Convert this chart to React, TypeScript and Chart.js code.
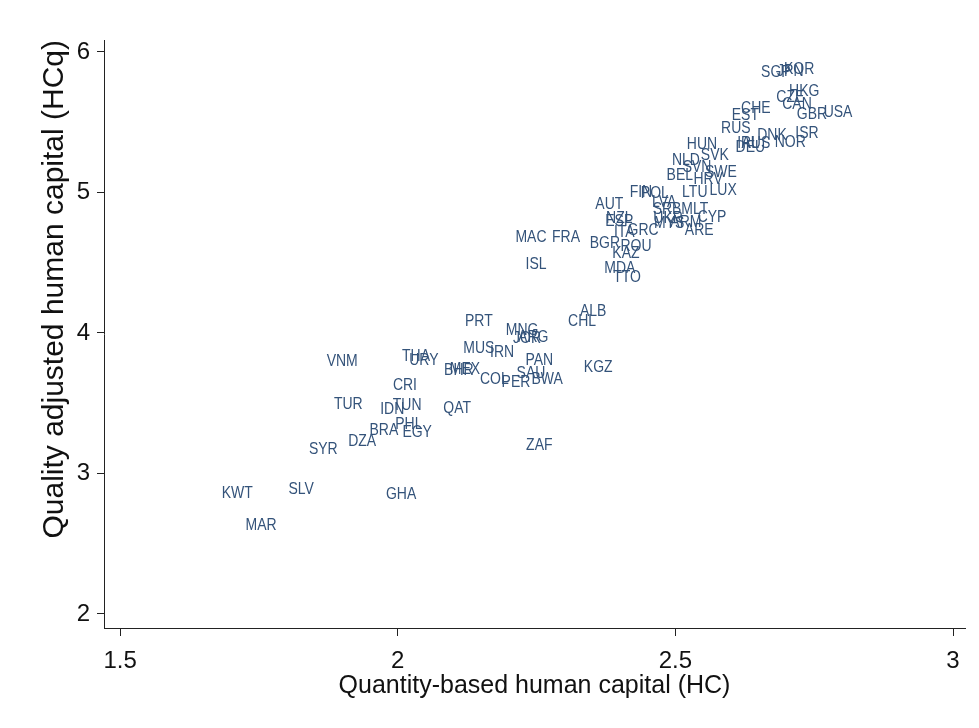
import React, { useEffect, useRef } from 'react';
import { Chart, registerables } from 'chart.js';

Chart.register(...registerables);

const countries = [
  'SGP', 'JPN', 'KOR', 'HKG', 'CZE', 'CAN', 'CHE', 'EST', 'GBR', 'USA',
  'RUS', 'DNK', 'ISR', 'NOR', 'AUS', 'IRL', 'DEU', 'HUN', 'SVK', 'NLD',
  'SVN', 'SWE', 'BEL', 'HRV', 'LTU', 'LUX', 'FIN', 'POL', 'LVA', 'AUT',
  'SRB', 'MLT', 'CYP', 'NZL', 'ESP', 'UKR', 'ARM', 'MYS', 'ARE', 'ITA',
  'GRC', 'BGR', 'ROU', 'KAZ', 'MDA', 'TTO', 'MAC', 'FRA', 'ISL', 'ALB',
  'CHL', 'PRT', 'MNG', 'JOR', 'ARG', 'MUS', 'IRN', 'PAN', 'SAU', 'COL',
  'PER', 'BWA', 'BHR', 'MEX', 'KGZ', 'ZAF', 'THA', 'URY', 'VNM', 'CRI',
  'TUN', 'IDN', 'QAT', 'TUR', 'PHL', 'BRA', 'EGY', 'DZA', 'SYR', 'KWT',
  'SLV', 'GHA', 'MAR',
];

const hc = [
  2.681, 2.707, 2.723, 2.732, 2.707, 2.719, 2.645, 2.626, 2.746, 2.793,
  2.609, 2.674, 2.737, 2.707, 2.645, 2.631, 2.635, 2.548, 2.571, 2.519,
  2.539, 2.582, 2.508, 2.559, 2.535, 2.586, 2.438, 2.463, 2.480, 2.381,
  2.485, 2.535, 2.566, 2.399, 2.399, 2.487, 2.519, 2.489, 2.543, 2.408,
  2.442, 2.373, 2.429, 2.411, 2.400, 2.413, 2.240, 2.303, 2.249, 2.352,
  2.332, 2.146, 2.224, 2.233, 2.244, 2.146, 2.188, 2.255, 2.240, 2.174,
  2.213, 2.269, 2.110, 2.121, 2.361, 2.255, 2.033, 2.047, 1.900, 2.013,
  2.017, 1.990, 2.107, 1.911, 2.020, 1.975, 2.035, 1.936, 1.866, 1.711,
  1.826, 2.006, 1.754,
];

const hcq = [
  5.858, 5.865, 5.879, 5.722, 5.680, 5.630, 5.601, 5.552, 5.559, 5.573,
  5.459, 5.409, 5.423, 5.359, 5.352, 5.352, 5.324, 5.345, 5.267, 5.231,
  5.181, 5.146, 5.125, 5.096, 5.004, 5.018, 5.004, 4.996, 4.932, 4.918,
  4.883, 4.883, 4.826, 4.819, 4.797, 4.819, 4.790, 4.783, 4.733, 4.719,
  4.733, 4.641, 4.619, 4.569, 4.463, 4.399, 4.683, 4.683, 4.491, 4.157,
  4.085, 4.085, 4.021, 3.964, 3.972, 3.893, 3.865, 3.808, 3.715, 3.673,
  3.651, 3.673, 3.737, 3.744, 3.758, 3.203, 3.836, 3.808, 3.801, 3.630,
  3.488, 3.459, 3.466, 3.495, 3.352, 3.310, 3.295, 3.231, 3.174, 2.861,
  2.890, 2.854, 2.633,
];

const xTicks = [1.5, 2, 2.5, 3];
const yTicks = [2, 3, 4, 5, 6];

const xTitle = 'Quantity-based human capital (HC)';
const yTitle = 'Quality adjusted human capital (HCq)';

const LABEL_COLOR = '#34537a';
const FONT = '"Liberation Sans", Arial, Helvetica, sans-serif';

const labelPlugin = {
  id: 'countryLabels',
  afterDatasetsDraw(chart: any) {
    const ctx = chart.ctx;
    const meta = chart.getDatasetMeta(0);
    ctx.save();
    ctx.font = `14px ${FONT}`;
    ctx.fillStyle = LABEL_COLOR;
    ctx.textAlign = 'center';
    ctx.textBaseline = 'middle';
    meta.data.forEach((pt: any, i: number) => {
      ctx.save();
      ctx.translate(pt.x, pt.y);
      ctx.scale(1, 1.2);
      ctx.fillText(countries[i], 0, 0);
      ctx.restore();
    });
    ctx.restore();
  },
};

export default function App() {
  const canvasRef = useRef<HTMLCanvasElement | null>(null);

  useEffect(() => {
    const canvas = canvasRef.current;
    if (!canvas) return;
    const points = hc.map((x, i) => ({ x, y: hcq[i] }));
    const chart = new Chart(canvas, {
      type: 'scatter',
      data: {
        datasets: [
          {
            label: 'HCq',
            data: points,
            pointRadius: 0,
            pointHoverRadius: 0,
            showLine: false,
          },
        ],
      },
      options: {
        animation: false,
        responsive: false,
        devicePixelRatio: 1,
        layout: { padding: { top: 40, right: 14, bottom: 0, left: 0 } },
        plugins: {
          legend: { display: false },
          tooltip: { enabled: false },
        },
        scales: {
          x: {
            type: 'linear',
            min: 1.471,
            max: 3.0216,
            afterBuildTicks: (scale: any) => {
              scale.ticks = xTicks.map((v) => ({ value: v }));
            },
            afterFit: (scale: any) => {
              scale.height = 100;
            },
            grid: {
              display: true,
              drawOnChartArea: false,
              drawTicks: true,
              tickLength: 8,
              color: '#222',
              lineWidth: 1,
            },
            border: { display: true, color: '#222', width: 1 },
            ticks: {
              color: '#111',
              padding: 11,
              font: { family: FONT, size: 24 },
              callback: (v: any) => String(v),
            },
            title: {
              display: true,
              text: xTitle,
              color: '#111',
              font: { family: FONT, size: 25, lineHeight: 1.2 },
              padding: { top: 0, bottom: 27 },
            },
          },
          y: {
            type: 'linear',
            min: 1.9,
            max: 6.085,
            afterBuildTicks: (scale: any) => {
              scale.ticks = yTicks.map((v) => ({ value: v }));
            },
            afterFit: (scale: any) => {
              scale.width = 104;
            },
            grid: {
              display: true,
              drawOnChartArea: false,
              drawTicks: true,
              tickLength: 7,
              color: '#222',
              lineWidth: 1,
            },
            border: { display: true, color: '#222', width: 1 },
            ticks: {
              color: '#111',
              padding: 7,
              font: { family: FONT, size: 24 },
              callback: (v: any) => String(v),
            },
            title: {
              display: true,
              text: yTitle,
              align: 'end',
              color: '#111',
              font: { family: FONT, size: 30, lineHeight: 1.2 },
              padding: { top: 37, bottom: 0 },
            },
          },
        },
      },
      plugins: [labelPlugin],
    } as any);
    return () => chart.destroy();
  }, []);

  return (
    <div
      style={{
        position: 'fixed',
        left: 0,
        top: 0,
        width: 979,
        height: 728,
        background: '#fff',
      }}
    >
      <canvas ref={canvasRef} width={979} height={728} />
    </div>
  );
}
